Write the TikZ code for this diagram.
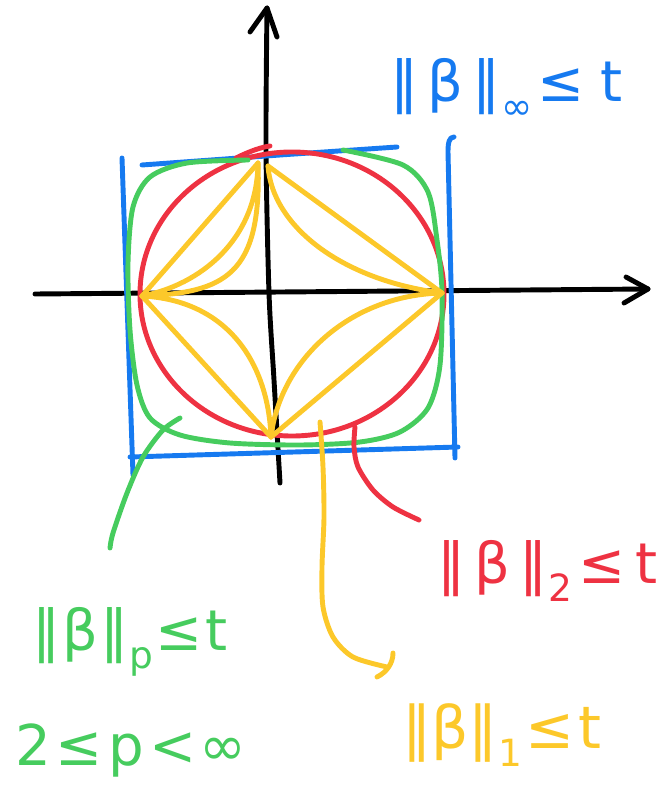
\documentclass[tikz,border=0pt]{standalone}
\usepackage{fontspec}
\newfontfamily\hand{DejaVu Sans}
\definecolor{penblue}{RGB}{22,122,240}
\definecolor{penred}{RGB}{238,50,66}
\definecolor{pengreen}{RGB}{70,204,94}
\definecolor{penyellow}{RGB}{252,200,42}
\newcommand\lowsub[1]{\raisebox{-0.32em}{\fontsize{32}{32}\selectfont #1}}
\tikzset{
  pen/.style={line width=4.2pt,line cap=round,line join=round},
  lbl/.style={inner sep=0pt,anchor=base west,font=\hand\fontsize{48}{48}\selectfont}
}
\begin{document}
\begin{tikzpicture}[x=0.03cm,y=-0.03cm]
\useasboundingbox (0,0) rectangle (666,792);
% axes
\coordinate (xl) at (35,294);
\coordinate (xr) at (648,289);
\coordinate (yb) at (280,483);
\coordinate (yt) at (267,8);
\draw[pen] (xl) -- (xr);
\draw[pen] (626,277) -- (xr) -- (624,303);
\draw[pen] plot[smooth] coordinates {(yb) (274,380) (269,293) (266,150) (yt)};
\draw[pen] (250,32) -- (yt) -- (277,37);
% blue square
\draw[pen,penblue] (142,165) -- (280,155) -- (397,147);
\draw[pen,penblue] (122,158) -- (133,475);
\draw[pen,penblue] (130,457) -- (458,447);
\draw[pen,penblue] (454,137) .. controls (449,137) and (448,143) .. (448,152) -- (455,458);
% red circle
\draw[pen,penred] (292,294) ellipse [x radius=4.56cm, y radius=4.26cm];
\draw[pen,penred] (236,158) .. controls (250,151) and (262,147) .. (270,146);
% green superellipse
\draw[pen,pengreen] plot[smooth] coordinates {(343,150) (403,165) (428,192) (437,240) (442,292) (440,365) (428,408) (400,432) (360,442) (300,445) (230,443) (180,435) (150,418) (137,385) (130,330) (128,263) (133,207) (150,177) (187,163) (248,160)};
% yellow l1 shapes
\coordinate (T1) at (258,163);
\coordinate (T2) at (268,166);
\coordinate (L) at (142,296);
\coordinate (R) at (442,293);
\coordinate (B) at (271,437);
\draw[pen,penyellow] (T1) -- (L);
\draw[pen,penyellow] (T1) .. controls (257,240) and (200,285) .. (L);
\draw[pen,penyellow] (T1) .. controls (262,275) and (225,293) .. (L);
\draw[pen,penyellow] (T2) -- (R);
\draw[pen,penyellow] (T2) .. controls (272,225) and (340,280) .. (R);
\draw[pen,penyellow] (R) -- (B);
\draw[pen,penyellow] (R) .. controls (350,295) and (280,360) .. (B);
\draw[pen,penyellow] (L) -- (B);
\draw[pen,penyellow] (L) .. controls (225,300) and (268,360) .. (B);
% labels
\node[lbl,text=penblue] (linf) at (390,102) {‖\hspace{8pt}β\hspace{8pt}‖\lowsub{∞}\hspace{4pt}≤\hspace{14pt}t};
\node[lbl,text=penred] (ltwo) at (437,583) {‖\hspace{8pt}β\hspace{8pt}‖\lowsub{2}\hspace{6pt}≤\hspace{8pt}t};
\node[lbl,text=pengreen] (lp) at (32,650) {‖\hspace{2pt}β\hspace{2pt}‖\lowsub{p}\hspace{2pt}≤\hspace{3pt}t};
\node[lbl,text=pengreen] (lrange) at (15,765) {2\hspace{4pt}≤\hspace{5pt}p\hspace{4pt}<\hspace{3pt}∞};
\node[lbl,text=penyellow,font=\hand\fontsize{50}{50}\selectfont] (lone) at (402,748) {‖β‖\lowsub{1}\hspace{3pt}≤\hspace{3pt}t};
% leaders
\coordinate (gs) at (180,418);
\coordinate (ge) at (110,548);
\draw[pen,pengreen] plot[smooth] coordinates {(gs) (163,430) (143,457) (127,493) (113,533) (ge)};
\coordinate (rs) at (355,427);
\coordinate (re) at (419,520);
\draw[pen,penred] plot[smooth] coordinates {(rs) (354,447) (358,467) (373,490) (393,507) (re)};
\coordinate (ys) at (320,422);
\coordinate (ye) at (387,667);
\draw[pen,penyellow] plot[smooth] coordinates {(ys) (323,467) (324,517) (322,567) (323,607) (333,637) (353,657) (ye)};
\draw[pen,penyellow] (393,653) .. controls (393,663) and (387,672) .. (377,677);
\end{tikzpicture}
\end{document}
